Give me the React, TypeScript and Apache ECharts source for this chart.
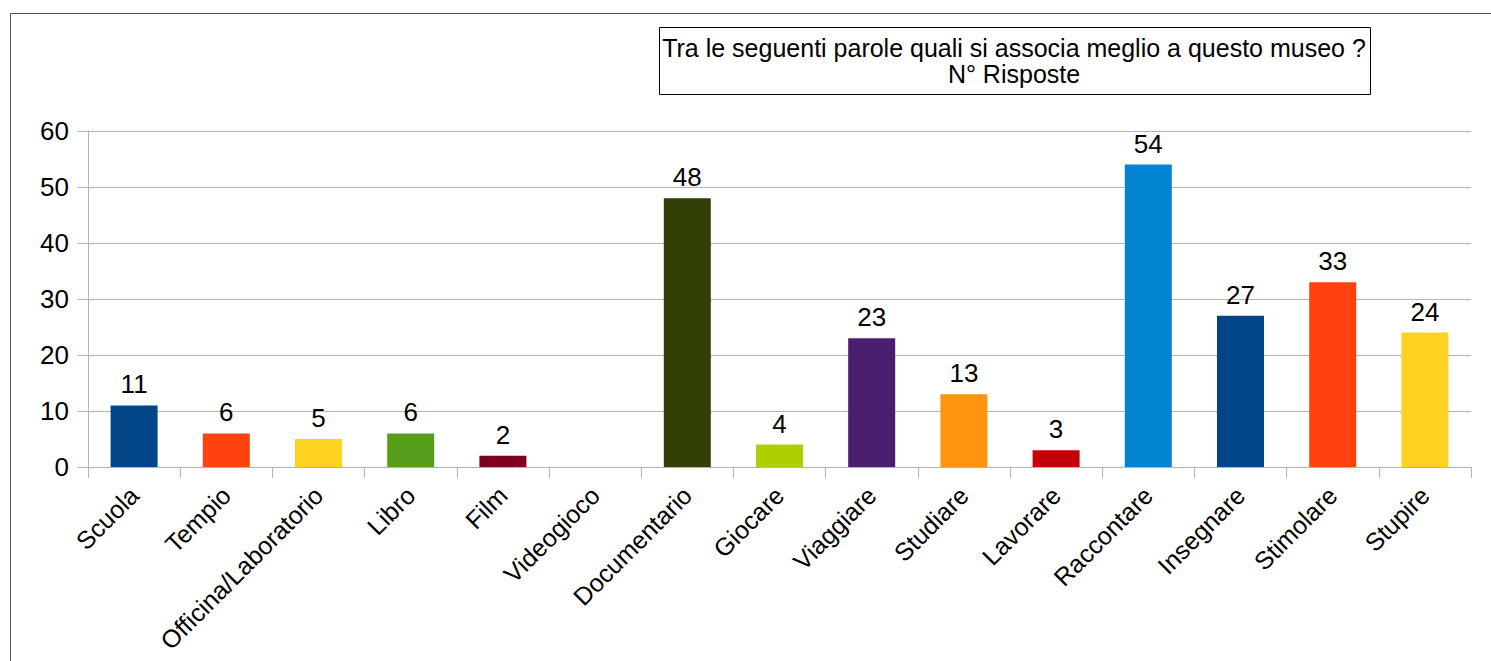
import React, { useEffect, useRef } from "react";
import * as echarts from "echarts";

const categories = [
  "Scuola", "Tempio", "Officina/Laboratorio", "Libro", "Film", "Videogioco",
  "Documentario", "Giocare", "Viaggiare", "Studiare", "Lavorare", "Raccontare",
  "Insegnare", "Stimolare", "Stupire",
];
const values = [11, 6, 5, 6, 2, 0, 48, 4, 23, 13, 3, 54, 27, 33, 24];
const colors = [
  "#004586", "#ff420e", "#ffd320", "#579d1c", "#7e0021", "#83caff",
  "#314004", "#aecf00", "#4b1f6f", "#ff950e", "#c5000b", "#0084d1",
  "#004586", "#ff420e", "#ffd320",
];
const titleLines = [
  "Tra le seguenti parole quali si associa meglio a questo museo ?",
  "N° Risposte",
];

export default function App() {
  const ref = useRef<HTMLDivElement>(null);
  useEffect(() => {
    if (!ref.current) return;
    const chart = echarts.init(ref.current, null, { renderer: "svg" });
    const font = "'Liberation Sans', Arial, sans-serif";
    chart.setOption({
      animation: false,
      textStyle: { fontFamily: font },
      graphic: [
        {
          type: "rect",
          shape: { x: 10.5, y: 13.5, width: 1500, height: 700 },
          style: { fill: "none", stroke: "#555", lineWidth: 1 },
          silent: true,
        },
        {
          type: "rect",
          shape: { x: 659.5, y: 27.5, width: 711, height: 67 },
          style: { fill: "#fff", stroke: "#000", lineWidth: 1 },
        },
        {
          type: "text",
          x: 1014,
          y: 35,
          style: {
            text: titleLines.join("\n"),
            fontSize: 25,
            lineHeight: 26,
            fontFamily: font,
            fill: "#000",
            align: "center",
            verticalAlign: "top",
          },
        },
      ],
      grid: { left: 88, right: 20, top: 131, bottom: 194, containLabel: false },
      xAxis: {
        type: "category",
        data: categories,
        axisLine: { lineStyle: { color: "#b3b3b3" } },
        axisTick: { show: true, length: 11, lineStyle: { color: "#b3b3b3" } },
        axisLabel: {
          rotate: 45,
          fontSize: 25,
          color: "#000",
          margin: 24,
          interval: 0,
          fontFamily: font,
        },
      },
      yAxis: {
        type: "value",
        min: 0,
        max: 60,
        interval: 10,
        axisLine: { show: true, lineStyle: { color: "#b3b3b3" } },
        axisTick: { show: true, length: 10, lineStyle: { color: "#b3b3b3" } },
        splitLine: { lineStyle: { color: "#b3b3b3" } },
        axisLabel: { fontSize: 26, color: "#000", margin: 19, fontFamily: font },
      },
      series: [
        {
          type: "bar",
          barWidth: 47,
          data: values.map((v, i) => ({ value: v, itemStyle: { color: colors[i] } })),
          label: {
            show: true,
            position: "top",
            distance: 8,
            fontSize: 26,
            color: "#000",
            fontFamily: font,
            formatter: (p: any) => (p.value === 0 ? "" : String(p.value)),
          },
        },
      ],
    });
    return () => chart.dispose();
  }, []);
  return (
    <div
      ref={ref}
      style={{ position: "fixed", left: 0, top: 0, width: 1491, height: 661, background: "#fff" }}
    />
  );
}
